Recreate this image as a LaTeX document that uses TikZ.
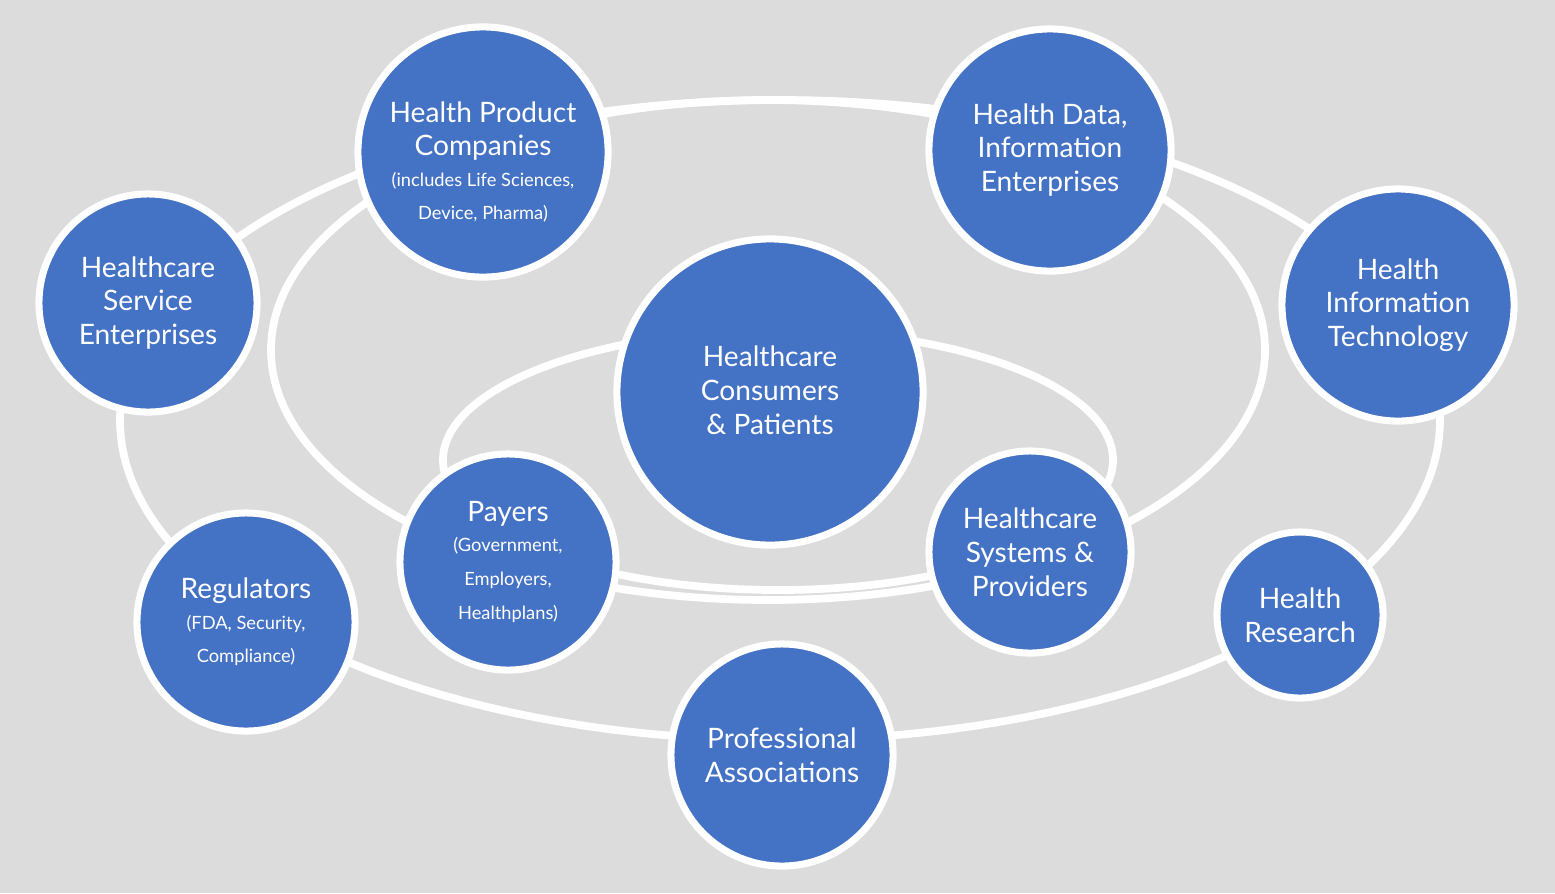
\documentclass[tikz,border=0pt]{standalone}
\usepackage{fontspec}
\setmainfont{Lato}
\definecolor{bgray}{HTML}{DCDCDC}
\definecolor{oblue}{HTML}{4472C4}
\newcommand{\smalltxt}{\fontsize{5.2}{6.3}\selectfont}
\tikzset{
  orbit/.style={draw=white, line width=2.2pt},
  actor/.style={circle, fill=oblue, draw=white, line width=2pt, text=white,
    align=center, font=\fontsize{8}{9.6}\selectfont, inner sep=0pt}
}
\begin{document}
\begin{tikzpicture}[x=0.01cm, y=-0.01cm]
  \fill[bgray] (0,0) rectangle (1555,893);
  \useasboundingbox (0,0) rectangle (1555,893);
  % orbits
  \draw[orbit] (780,420) ellipse [x radius=660, y radius=320];
  \draw[orbit] (768,350) ellipse [x radius=497, y radius=250];
  \draw[orbit] (778,460) ellipse [x radius=335, y radius=130];
  % actors
  \node[actor, minimum size=2.5cm] (hpc) at (483,152) {};
  \node[align=center, text=white, font=\fontsize{8}{9.6}\selectfont] (hpct) at (483,162)
    {Health Product\\Companies\\[-1pt]\smalltxt (includes Life Sciences,\\\smalltxt Device, Pharma)};
  \node[actor, minimum size=2.42cm] (hde) at (1050,150) {Health Data,\\Information\\Enterprises};
  \node[actor, minimum size=2.18cm] (hse) at (148,303) {Healthcare\\Service\\Enterprises};
  \node[actor, minimum size=2.32cm] (hit) at (1398,305) {Health\\Information\\Technology};
  \node[actor, minimum size=3.06cm] (hcp) at (770,392) {};
  \node[align=center, text=white, font=\fontsize{8}{9.6}\selectfont] (hcpt) at (770,390)
    {Healthcare\\Consumers\\\& Patients};
  \node[actor, minimum size=2.16cm] (pay) at (508,562) {};
  \node[align=center, text=white, font=\fontsize{8}{9.6}\selectfont] (payt) at (508,562)
    {Payers\\[-1pt]\smalltxt (Government,\\\smalltxt Employers,\\\smalltxt Healthplans)};
  \node[actor, minimum size=2.02cm] (hsp) at (1030,552) {Healthcare\\Systems \&\\Providers};
  \node[actor, minimum size=2.18cm] (reg) at (246,622) {};
  \node[align=center, text=white, font=\fontsize{8}{9.6}\selectfont] (regt) at (246,622)
    {Regulators\\[-1pt]\smalltxt (FDA, Security,\\\smalltxt Compliance)};
  \node[actor, minimum size=1.66cm] (hre) at (1300,615) {Health\\Research};
  \node[actor, minimum size=2.22cm] (pas) at (782,755) {Professional\\Associations};
\end{tikzpicture}
\end{document}
